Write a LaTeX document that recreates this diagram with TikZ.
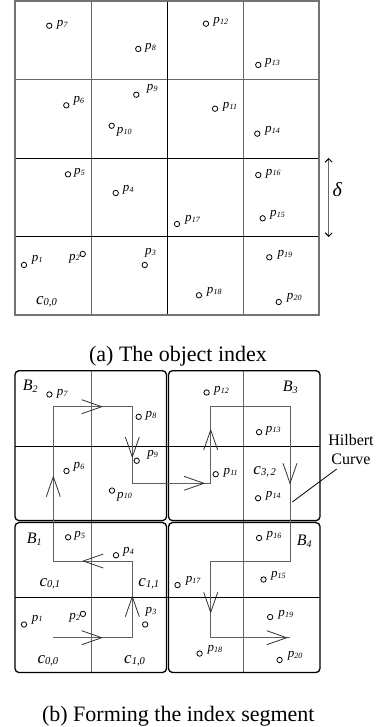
\documentclass[tikz,border=0pt]{standalone}
\usepackage{fontspec}
\setmainfont{Liberation Serif}
\usetikzlibrary{calc,arrows.meta}
\newcommand\plab[1]{\textit{p}\kern0.2pt\raisebox{-0.8pt}{\fontsize{8}{8}\selectfont\itshape #1}}
\newcommand\clab[1]{\textit{c}\raisebox{-1.5pt}{\fontsize{10.5}{10.5}\selectfont\itshape #1}}
\newcommand\blab[1]{\textit{B}\raisebox{-2pt}{\fontsize{10}{10}\selectfont\itshape #1}}
\def\ptlist{7/0.451/3.685/7.4/-1, 8/1.622/3.389/6.7/-1, 12/2.513/3.711/7.3/-0.3, 13/3.201/3.185/6.7/0,
6/0.675/2.671/7/2.6, 9/1.596/2.806/10.4/4, 10/1.272/2.411/5/-7.6, 11/2.632/2.628/7.7/0, 14/3.188/2.310/7.7/1,
5/0.697/1.792/6/0, 4/1.325/1.554/7/1.3, 16/3.201/1.783/7.4/0, 17/2.132/1.159/8/2.3, 15/3.259/1.232/7.3/1.6,
1/0.118/0.637/7.7/3.3, 2/0.891/0.777/-13.7/-6, 3/1.707/0.637/0.3/10.7, 19/3.346/0.735/8/0.6, 18/2.421/0.251/7.7/2, 20/3.470/0.166/8/2}
\newcommand\drawpts[1]{%
  \foreach \pn/\pu/\pv/\pdx/\pdy in \ptlist {%
    \node[ptc] (#1-p\pn) at (\pu,\pv) {};
    \node[plabst, anchor=base west] (#1-l\pn) at ($(#1-p\pn)+(\pdx pt,\pdy pt)$) {\plab{\pn}};
  }}
\newcommand\vhead[3]{\draw[arrowhd, shift={(#1,#2)}, rotate=#3] (-20,7) -- (0,0) -- (-20,-7);}
\begin{document}
\begin{tikzpicture}[x=1pt,y=-1pt,
  ptc/.style={circle, draw=black, line width=0.8pt, inner sep=0pt, minimum size=5.4pt},
  plabst/.style={font=\fontsize{13}{13}\selectfont, inner sep=0pt},
  clabst/.style={font=\fontsize{17}{17}\selectfont, inner sep=0pt, anchor=base west},
  blabst/.style={font=\fontsize{16}{16}\selectfont, inner sep=0pt, anchor=base west},
  capst/.style={font=\fontsize{22}{26}\selectfont, inner sep=0pt, anchor=base},
  gline/.style={draw=black!60, line width=1pt},
  bline/.style={draw=black, line width=0.8pt},
  frame/.style={draw=black!55, line width=1.4pt},
  blockst/.style={draw=black, line width=1.3pt, rounded corners=4pt},
  curvest/.style={draw=black!62, line width=1pt},
  arrowhd/.style={draw=black!80, line width=0.8pt}]
\fill[white] (0,0) rectangle (381,727);
\useasboundingbox (0,0) rectangle (381,727);

% ---------- (a) ----------
\begin{scope}[shift={(15,315)}, x=76pt, y=78.5pt]
  \draw[gline] (1,0) -- (1,4);
  \draw[gline] (3,0) -- (3,4);
  \draw[gline] (0,3) -- (4,3);
  \draw[bline] (2,0) -- (2,4);
  \draw[bline] (0,1) -- (4,1);
  \draw[bline] (0,2) -- (4,2);
  \draw[frame] (0,0) rectangle (4,4);
  \drawpts{a}
  \node[clabst] (a-c00) at (0.276,0.14) {\clab{0,0}};
\end{scope}
\coordinate (dtop) at (328.7,158);
\coordinate (dbot) at (328.7,237);
\draw[draw=black!60, line width=1pt, {Straight Barb[length=3.5pt,width=7pt,black]}-{Straight Barb[length=3.5pt,width=7pt,black]}] (dtop) -- (dbot);
\node[inner sep=0pt, font=\fontsize{20}{20}\selectfont] (delta) at (337.5,190) {\textit{δ}};
\node[capst] (capa) at (178,361.7) {(a) The object index};

% ---------- (b) ----------
\begin{scope}[shift={(15,672.5)}, x=76.25pt, y=75.45pt]
  \draw[gline] (1,0) -- (1,4);
  \draw[gline] (3,0) -- (3,4);
  \draw[bline] (0,1) -- (4,1);
  \draw[bline] (0,3) -- (4,3);
  \draw[blockst] (0,0) rectangle (1.987,1.987);
  \draw[blockst] (0,2.013) rectangle (1.987,4);
  \draw[blockst] (2.013,2.013) rectangle (4,4);
  \draw[blockst] (2.013,0) rectangle (4,1.987);
  \drawpts{b}
  \node[clabst] (b-c00) at (0.293,0.126) {\clab{0,0}};
  \node[clabst] (b-c10) at (1.43,0.126) {\clab{1,0}};
  \node[clabst] (b-c01) at (0.319,1.146) {\clab{0,1}};
  \node[clabst] (b-c11) at (1.617,1.146) {\clab{1,1}};
  \node[clabst] (b-c32) at (3.125,2.627) {\clab{3,\,2}};
\end{scope}
% Hilbert curve
\draw[curvest] (53.3,637.7) -- (132.3,637.7) -- (132.3,561) -- (53.3,561) -- (53.3,406.7)
  -- (132.3,406.7) -- (132.3,483.3) -- (210.7,483.3) -- (210.7,406.7) -- (290,406.7)
  -- (290,561) -- (210.7,561) -- (210.7,637.7) -- (290,637.7);
\vhead{101.7}{637.7}{0}
\vhead{132.3}{596.7}{90}
\vhead{83.3}{561}{180}
\vhead{53.3}{476.7}{90}
\vhead{101.7}{406.7}{0}
\vhead{132.3}{457}{-90}
\vhead{204}{483.3}{0}
\vhead{210.7}{430}{90}
\vhead{290}{483.3}{-90}
\vhead{210.7}{612.3}{-90}
\vhead{286.7}{637.7}{0}
% block labels
\node[blabst] (B2) at (22.7,390) {\blab{2}};
\node[blabst] (B3) at (282.7,391.7) {\blab{3}};
\node[blabst] (B1) at (26.7,543.3) {\blab{1}};
\node[blabst] (B4) at (296.7,545) {\blab{4}};
% Hilbert label
\node[inner sep=0pt, align=center, font=\fontsize{16}{19.3}\selectfont] (hil) at (351,449.5) {Hilbert\\Curve};
\coordinate (hilA) at (336.7,469);
\coordinate (hilB) at (292.3,502);
\draw[line width=0.8pt] (hilA) -- (hilB);
\node[capst] (capb) at (178.3,721.7) {(b) Forming the index segment};
\end{tikzpicture}
\end{document}
